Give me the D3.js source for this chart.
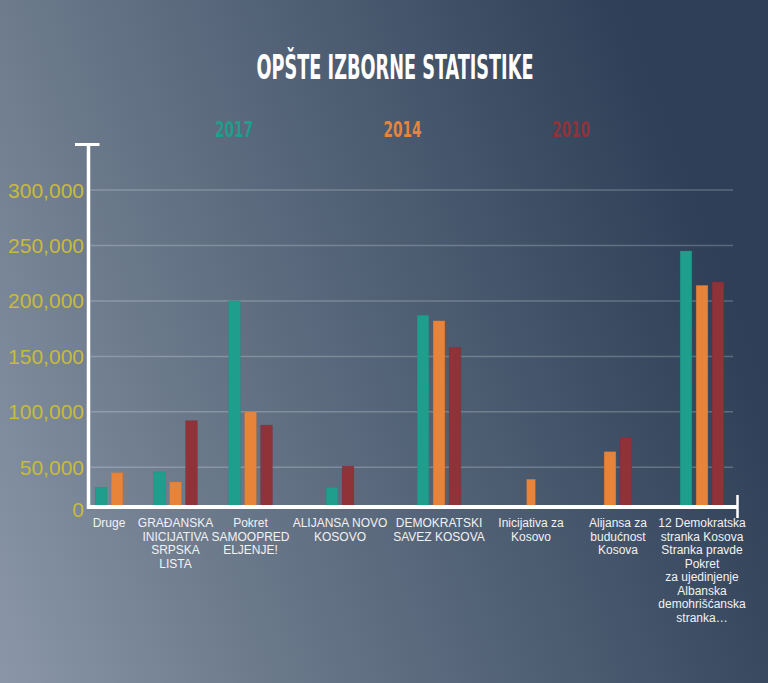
<!DOCTYPE html>
<html>
<head>
<meta charset="utf-8">
<script src="https://cdn.jsdelivr.net/npm/d3@7"></script>
<style>
  html, body { margin: 0; padding: 0; }
  svg { display: block; }
</style>
</head>
<body>
<script>
// ---- DATA ----
const categories = [
  "Druge",
  "GRAĐANSKA INICIJATIVA SRPSKA LISTA",
  "Pokret SAMOOPREDELJENJE!",
  "ALIJANSA NOVO KOSOVO",
  "DEMOKRATSKI SAVEZ KOSOVA",
  "Inicijativa za Kosovo",
  "Alijansa za budućnost Kosova",
  "12 Demokratska stranka Kosova Stranka pravde Pokret za ujedinjenje Albanska demohrišćanska stranka…"
];
const categoryLines = [
  ["Druge"],
  ["GRAĐANSKA", "INICIJATIVA", "SRPSKA", "LISTA"],
  ["Pokret", "SAMOOPRED", "ELJENJE!"],
  ["ALIJANSA NOVO", "KOSOVO"],
  ["DEMOKRATSKI", "SAVEZ KOSOVA"],
  ["Inicijativa za", "Kosovo"],
  ["Alijansa za", "budućnost", "Kosova"],
  ["12 Demokratska", "stranka Kosova", "Stranka pravde", "Pokret", "za ujedinjenje", "Albanska", "demohrišćanska", "stranka…"]
];
const seriesNames = ["2017", "2014", "2010"];
const values2017 = [24000, 44000, 200000, 24000, 187000, null, null, 245000];
const values2014 = [43000, 31000, 100000, null, 182000, 34500, 64000, 214000];
const values2010 = [null, 92000, 88000, 51000, 158000, null, 77000, 217000];
const tickValues = [0, 50000, 100000, 150000, 200000, 250000, 300000];
const title = "OPŠTE IZBORNE STATISTIKE";

// ---- STYLE / LAYOUT ----
const W = 768, H = 683;
const colors = { "2017": "#1f9e8d", "2014": "#e8843a", "2010": "#8f3338" };
const seriesValues = { "2017": values2017, "2014": values2014, "2010": values2010 };
// category slot centres as laid out in the reference (layout, not data)
const slotCenters = [109, 175.5, 250.5, 340, 439, 531, 618, 702];

const svg = d3.select("body").append("svg").attr("width", W).attr("height", H);

const defs = svg.append("defs");
const grad = defs.append("linearGradient").attr("id", "bg")
  .attr("gradientUnits", "userSpaceOnUse")
  .attr("x1", 0).attr("y1", H).attr("x2", W).attr("y2", 400);
grad.append("stop").attr("offset", "0").attr("stop-color", "#8b97a8");
grad.append("stop").attr("offset", "0.29").attr("stop-color", "#6d7b8d");
grad.append("stop").attr("offset", "1").attr("stop-color", "#2e3f57");
svg.append("rect").attr("width", W).attr("height", H).attr("fill", "url(#bg)");

// piecewise y scale as drawn in the reference (0 sits on the axis line)
const y = d3.scaleLinear().domain([0, 50000, 300000]).range([506, 467.3, 190]);
const axisTopValue = 341000;

const axisX = 88.5, plotRight = 737.5, gridRight = 733;
const x = d3.scaleOrdinal().domain(categories).range(slotCenters);
const barStep = 16, barGap = 4.3;

// gridlines
svg.append("g").selectAll("line")
  .data(tickValues.filter(d => d > 0))
  .join("line")
  .attr("x1", axisX + 2).attr("x2", gridRight)
  .attr("y1", d => y(d)).attr("y2", d => y(d))
  .attr("stroke", "rgba(255,255,255,0.22)").attr("stroke-width", 1.5);

// tick labels
svg.append("g").selectAll("text")
  .data(tickValues)
  .join("text")
  .attr("x", 84)
  .attr("y", d => y(d))
  .attr("dy", d => d === 0 ? "0.5em" : "0.36em")
  .attr("text-anchor", "end")
  .attr("fill", "#c9ba3a")
  .attr("font-family", "Liberation Sans, Arial, sans-serif")
  .attr("font-size", 21)
  .text(d => d3.format(",")(d));

// bars
const groups = svg.append("g").selectAll("g")
  .data(categories)
  .join("g");
groups.each(function(cat, i) {
  const present = seriesNames.filter(s => seriesValues[s][i] != null);
  const n = present.length;
  const width = n * barStep - barGap;
  const cx = x(cat);
  const inner = d3.scaleBand().domain(present)
    .range([cx - width / 2, cx + width / 2])
    .paddingInner(barGap / barStep).paddingOuter(0);
  d3.select(this).selectAll("rect")
    .data(present)
    .join("rect")
    .attr("x", s => inner(s))
    .attr("width", inner.bandwidth())
    .attr("y", s => y(seriesValues[s][i]))
    .attr("height", s => y(0) - y(seriesValues[s][i]))
    .attr("fill", s => colors[s])
    .attr("stroke", s => d3.color(colors[s]).darker(0.4))
    .attr("stroke-opacity", 0.5)
    .attr("stroke-width", 0.6);
});

// axes (white)
const yTop = y(axisTopValue);
svg.append("line").attr("x1", axisX).attr("x2", axisX)
  .attr("y1", yTop).attr("y2", y(0) + 3)
  .attr("stroke", "#fff").attr("stroke-width", 3.5);
svg.append("line").attr("x1", axisX - 13.5).attr("x2", axisX + 11)
  .attr("y1", yTop).attr("y2", yTop)
  .attr("stroke", "#fff").attr("stroke-width", 3);
svg.append("line").attr("x1", axisX).attr("x2", plotRight)
  .attr("y1", y(0) + 1).attr("y2", y(0) + 1)
  .attr("stroke", "#fff").attr("stroke-width", 4);
svg.append("line").attr("x1", plotRight).attr("x2", plotRight)
  .attr("y1", y(0) - 11).attr("y2", y(0) + 12)
  .attr("stroke", "#fff").attr("stroke-width", 2.5);

// category labels
const labels = svg.append("g").selectAll("text")
  .data(categories)
  .join("text")
  .attr("x", d => x(d))
  .attr("y", 527)
  .attr("text-anchor", "middle")
  .attr("fill", "#f2f2f2")
  .attr("font-family", "Liberation Sans, Arial, sans-serif")
  .attr("font-size", 12);
labels.each(function(d, i) {
  d3.select(this).selectAll("tspan")
    .data(categoryLines[i])
    .join("tspan")
    .attr("x", x(d))
    .attr("dy", (t, j) => j === 0 ? 0 : 13.5)
    .text(t => t);
});

// title
svg.append("text")
  .attr("x", 395).attr("y", 79)
  .attr("text-anchor", "middle")
  .attr("fill", "#ffffff")
  .attr("font-family", "Liberation Sans Narrow, DejaVu Sans Condensed, Arial, sans-serif")
  .attr("font-weight", "bold")
  .attr("font-size", 33)
  .attr("textLength", 277)
  .attr("lengthAdjust", "spacingAndGlyphs")
  .text(title);

// legend (year labels)
const legendX = d3.scalePoint().domain(seriesNames).range([234, 571]);
svg.append("g").selectAll("text")
  .data(seriesNames)
  .join("text")
  .attr("x", d => legendX(d))
  .attr("y", 137)
  .attr("text-anchor", "middle")
  .attr("fill", d => colors[d])
  .attr("font-family", "Liberation Sans Narrow, DejaVu Sans Condensed, Arial, sans-serif")
  .attr("font-weight", "bold")
  .attr("font-size", 21.5)
  .attr("textLength", 38)
  .attr("lengthAdjust", "spacingAndGlyphs")
  .text(d => d);
</script>
</body>
</html>
